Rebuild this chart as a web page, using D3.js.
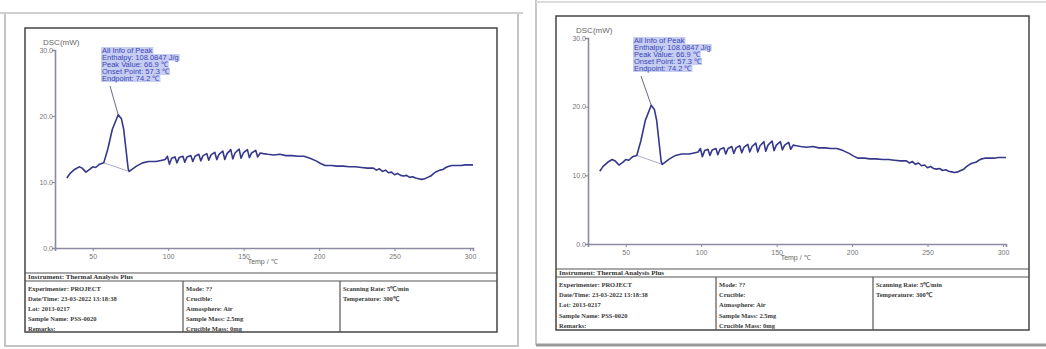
<!DOCTYPE html>
<html>
<head>
<meta charset="utf-8">
<script src="https://cdn.jsdelivr.net/npm/d3@7/dist/d3.min.js"></script>
<style>
  html, body { margin: 0; padding: 0; background: #ffffff; }
  svg { display: block; }
</style>
</head>
<body>
<svg id="chart" width="1046" height="349"></svg>
<script>
// DSC heat-flow trace (temperature in ℃, heat flow in mW)
const temps = [
  32.8, 35, 38, 41, 43, 45.5, 48, 50, 52, 54.5,
  57.3, 60, 63, 66.9, 69, 70.5, 72, 73.5, 74.2,
  76, 79, 83, 87, 92, 96,
  98.0, 99.5, 100.8, 102.3, 104.5, 105.8, 107.3, 109.8, 111.0, 112.5,
  115.0, 116.3, 117.8, 120.3, 121.6, 123.1, 125.6, 126.9, 128.4,
  130.9, 132.2, 133.7, 136.2, 137.5, 139.0, 141.5, 142.8, 144.3,
  147.0, 148.3, 149.8, 152.5, 153.8, 155.3, 158.0, 159.3, 161.0, 163.0,
  166, 170, 174, 178, 182, 186, 190, 194, 198, 201, 204,
  208, 212, 216, 220, 224, 228, 232, 236, 238, 240, 242, 244, 246, 248,
  250, 252, 254, 256, 258, 260, 262, 264, 266, 268, 270, 272, 274, 276,
  278, 280, 282, 284, 286, 288, 291, 294, 297, 300, 302
];
const dsc = [
  10.6, 11.3, 11.9, 12.3, 12.1, 11.5, 11.9, 12.3, 12.2, 12.7,
  12.9, 15.0, 18.0, 20.2, 19.6, 18.0, 15.0, 12.0, 11.6,
  11.9, 12.4, 12.9, 13.1, 13.1, 13.3,
  13.4, 13.9, 12.7, 13.6, 13.8, 12.9, 13.7, 13.9, 13.0, 13.8,
  14.0, 13.1, 13.9, 14.2, 13.2, 14.0, 14.3, 13.3, 14.1,
  14.5, 13.4, 14.2, 14.7, 13.4, 14.3, 14.9, 13.5, 14.4,
  15.0, 13.6, 14.4, 14.9, 13.7, 14.4, 14.8, 13.8, 14.4, 14.3,
  14.2, 14.1, 14.2, 14.0, 14.0, 13.9, 13.9, 13.6, 13.2, 12.8, 12.5,
  12.5, 12.4, 12.4, 12.3, 12.3, 12.2, 12.1, 12.1, 11.8, 12.0, 11.6, 11.8, 11.4, 11.5,
  11.1, 11.3, 11.0, 10.9, 11.0, 10.7, 10.8, 10.6, 10.5, 10.4, 10.5, 10.7, 10.9, 11.3,
  11.6, 11.8, 11.9, 12.2, 12.4, 12.5, 12.5, 12.5, 12.6, 12.6, 12.6
];

// Integration baseline of the melting peak (start / end points on the trace)
const baselineTemps = [57.3, 74.2];
const baselineDsc = [12.9, 11.6];
const enthalpy = "108.0847";

// Axes
const tempDomain = [25, 302];
const dscDomain = [0, 30];
const xTicks = [50, 100, 150, 200, 250, 300];
const yTicks = [0, 10, 20, 30];
const xTitle = "Temp / ℃";
const yTitle = "DSC(mW)";

// Report table
const instrumentLine = "Instrument: Thermal Analysis Plus";
const infoCol1 = ["Experimenter: PROJECT", "Date/Time: 23-03-2022 13:18:38", "Lot: 2013-0217", "Sample Name: PSS-0020", "Remarks:"];
const infoCol2 = ["Mode: ??", "Crucible:", "Atmosphere: Air", "Sample Mass: 2.5mg", "Crucible Mass: 0mg"];
const infoCol3 = ["Scanning Rate: 5℃/min", "Temperature: 300℃"];

const svg = d3.select("#chart");
svg.append("rect").attr("width", 1046).attr("height", 349).attr("fill", "#ffffff");

const series = temps.map((t, i) => ({ t, v: dsc[i] }));

// Two copies of the report page, each with its own placement
const pages = [
  {
    page: { x0: 5, y0: 13, x1: 518, y1: 346 },
    frame: { x0: 25, y0: 28, x1: 497, y1: 332 },
    hdr1: 273, hdr2: 281, col1: 183, col2: 340,
    headerY: 279, rowYs: [291, 301, 311, 321, 331],
    xRange: [55, 473], yRange: [248, 50],
    ann: { x: 102, y: 53, lh: 7 }, leader: [110, 86]
  },
  {
    page: null,
    frame: { x0: 556, y0: 16, x1: 1029, y1: 330 },
    hdr1: 269, hdr2: 277, col1: 716, col2: 873,
    headerY: 275, rowYs: [287, 297, 307, 318, 328],
    xRange: [588, 1006], yRange: [244, 38],
    ann: { x: 634, y: 43, lh: 7 }, leader: [641, 76]
  }
];

// Outer page edges
const lp = pages[0].page;
svg.append("rect")
  .attr("x", lp.x0).attr("y", lp.y0).attr("width", lp.x1 - lp.x0).attr("height", lp.y1 - lp.y0)
  .attr("fill", "none").attr("stroke", "#c4c4c4").attr("stroke-width", 2);
svg.append("line").attr("x1", 0).attr("x2", 523).attr("y1", 13).attr("y2", 13)
  .attr("stroke", "#d0d0d0").attr("stroke-width", 2);
svg.append("line").attr("x1", 536).attr("x2", 536).attr("y1", 0).attr("y2", 345)
  .attr("stroke", "#c8c8c8").attr("stroke-width", 2);
svg.append("line").attr("x1", 536).attr("x2", 1046).attr("y1", 2).attr("y2", 2)
  .attr("stroke", "#dddddd").attr("stroke-width", 2);
svg.append("line").attr("x1", 536).attr("x2", 1046).attr("y1", 345).attr("y2", 345)
  .attr("stroke", "#9a9a9a").attr("stroke-width", 3);

const curveColor = "#35378a";
const axisColor = "#8a8aa0";

pages.forEach(P => {
  const g = svg.append("g");
  const F = P.frame;

  // Frame and report table
  g.append("rect")
    .attr("x", F.x0).attr("y", F.y0).attr("width", F.x1 - F.x0).attr("height", F.y1 - F.y0)
    .attr("fill", "none").attr("stroke", "#444").attr("stroke-width", 1.5);
  [P.hdr1, P.hdr2].forEach(y => g.append("line")
    .attr("x1", F.x0).attr("x2", F.x1).attr("y1", y).attr("y2", y)
    .attr("stroke", "#555").attr("stroke-width", 1.2));
  [P.col1, P.col2].forEach(x => g.append("line")
    .attr("x1", x).attr("x2", x).attr("y1", P.hdr2).attr("y2", F.y1)
    .attr("stroke", "#555").attr("stroke-width", 1.2));

  const tableFont = "'Liberation Serif', 'Times New Roman', serif";
  g.append("text").attr("x", F.x0 + 3).attr("y", P.headerY)
    .attr("font-family", tableFont).attr("font-size", 7).attr("font-weight", "bold")
    .attr("fill", "#333").text(instrumentLine);
  [[infoCol1, F.x0 + 3], [infoCol2, P.col1 + 3], [infoCol3, P.col2 + 3]].forEach(([col, x]) => {
    g.selectAll(null).data(col).enter().append("text")
      .attr("x", x).attr("y", (d, i) => P.rowYs[i])
      .attr("font-family", tableFont).attr("font-size", 6.5).attr("font-weight", "bold")
      .attr("fill", "#3a3a3a").text(d => d);
  });

  // Scales
  const x = d3.scaleLinear().domain(tempDomain).range(P.xRange);
  const y = d3.scaleLinear().domain(dscDomain).range(P.yRange);

  const xAxis = d3.axisBottom(x).tickValues(xTicks).tickSize(3).tickFormat(d3.format("d"));
  const yAxis = d3.axisLeft(y).tickValues(yTicks).tickSize(3).tickFormat(d3.format(".1f"));

  const xg = g.append("g").attr("transform", `translate(0,${y(dscDomain[0])})`).call(xAxis);
  const yg = g.append("g").attr("transform", `translate(${x(tempDomain[0])},0)`).call(yAxis);
  [xg, yg].forEach(a => {
    a.select(".domain").attr("stroke", axisColor).attr("stroke-width", 1.6);
    a.selectAll(".tick line").attr("stroke", axisColor);
    a.selectAll(".tick text").attr("fill", "#777").attr("font-size", 7)
      .attr("font-family", "'Liberation Sans', Arial, sans-serif");
  });
  xg.selectAll(".tick text").attr("dy", "0.75em");
  yg.selectAll(".tick text").attr("x", -2);

  g.append("text").attr("x", x(tempDomain[0]) - 12).attr("y", y(dscDomain[1]) - 5)
    .attr("font-family", "'Liberation Sans', Arial, sans-serif").attr("font-size", 8)
    .attr("fill", "#666").text(yTitle);
  // Axis title sits just right of the middle tick label
  g.append("text").attr("x", x(xTicks[2]) + 4).attr("y", y(dscDomain[0]) + 16)
    .attr("font-family", "'Liberation Sans', Arial, sans-serif").attr("font-size", 7)
    .attr("fill", "#666").text(xTitle);

  // Peak integration baseline
  g.append("line")
    .attr("x1", x(baselineTemps[0])).attr("y1", y(baselineDsc[0]))
    .attr("x2", x(baselineTemps[1])).attr("y2", y(baselineDsc[1]))
    .attr("stroke", "#a8aac8").attr("stroke-width", 1);

  // Heat-flow curve
  const line = d3.line().x(d => x(d.t)).y(d => y(d.v));
  g.append("path").datum(series).attr("d", line)
    .attr("fill", "none").attr("stroke", curveColor).attr("stroke-width", 1.6)
    .attr("stroke-linejoin", "round");

  // Peak annotation
  const peak = series.reduce((a, b) => (b.v > a.v ? b : a));
  const annLines = [
    "All Info of Peak",
    `Enthalpy: ${enthalpy} J/g`,
    `Peak Value: ${peak.t.toFixed(1)} ℃`,
    `Onset Point: ${baselineTemps[0].toFixed(1)} ℃`,
    `Endpoint: ${baselineTemps[1].toFixed(1)} ℃`
  ];
  g.append("line")
    .attr("x1", P.leader[0]).attr("y1", P.leader[1])
    .attr("x2", x(peak.t)).attr("y2", y(peak.v))
    .attr("stroke", "#555a80").attr("stroke-width", 0.9);
  const ag = g.append("g");
  const texts = ag.selectAll("text").data(annLines).enter().append("text")
    .attr("x", P.ann.x).attr("y", (d, i) => P.ann.y + i * P.ann.lh)
    .attr("font-family", "'Liberation Sans', Arial, sans-serif").attr("font-size", 7.5)
    .attr("fill", "#3c44b8").text(d => d);
  texts.each(function (d, i) {
    const w = this.getComputedTextLength();
    ag.insert("rect", "text")
      .attr("x", P.ann.x - 1).attr("y", P.ann.y + i * P.ann.lh - 6)
      .attr("width", w + 2).attr("height", P.ann.lh)
      .attr("fill", "#c6cef2");
  });
});
</script>
</body>
</html>
